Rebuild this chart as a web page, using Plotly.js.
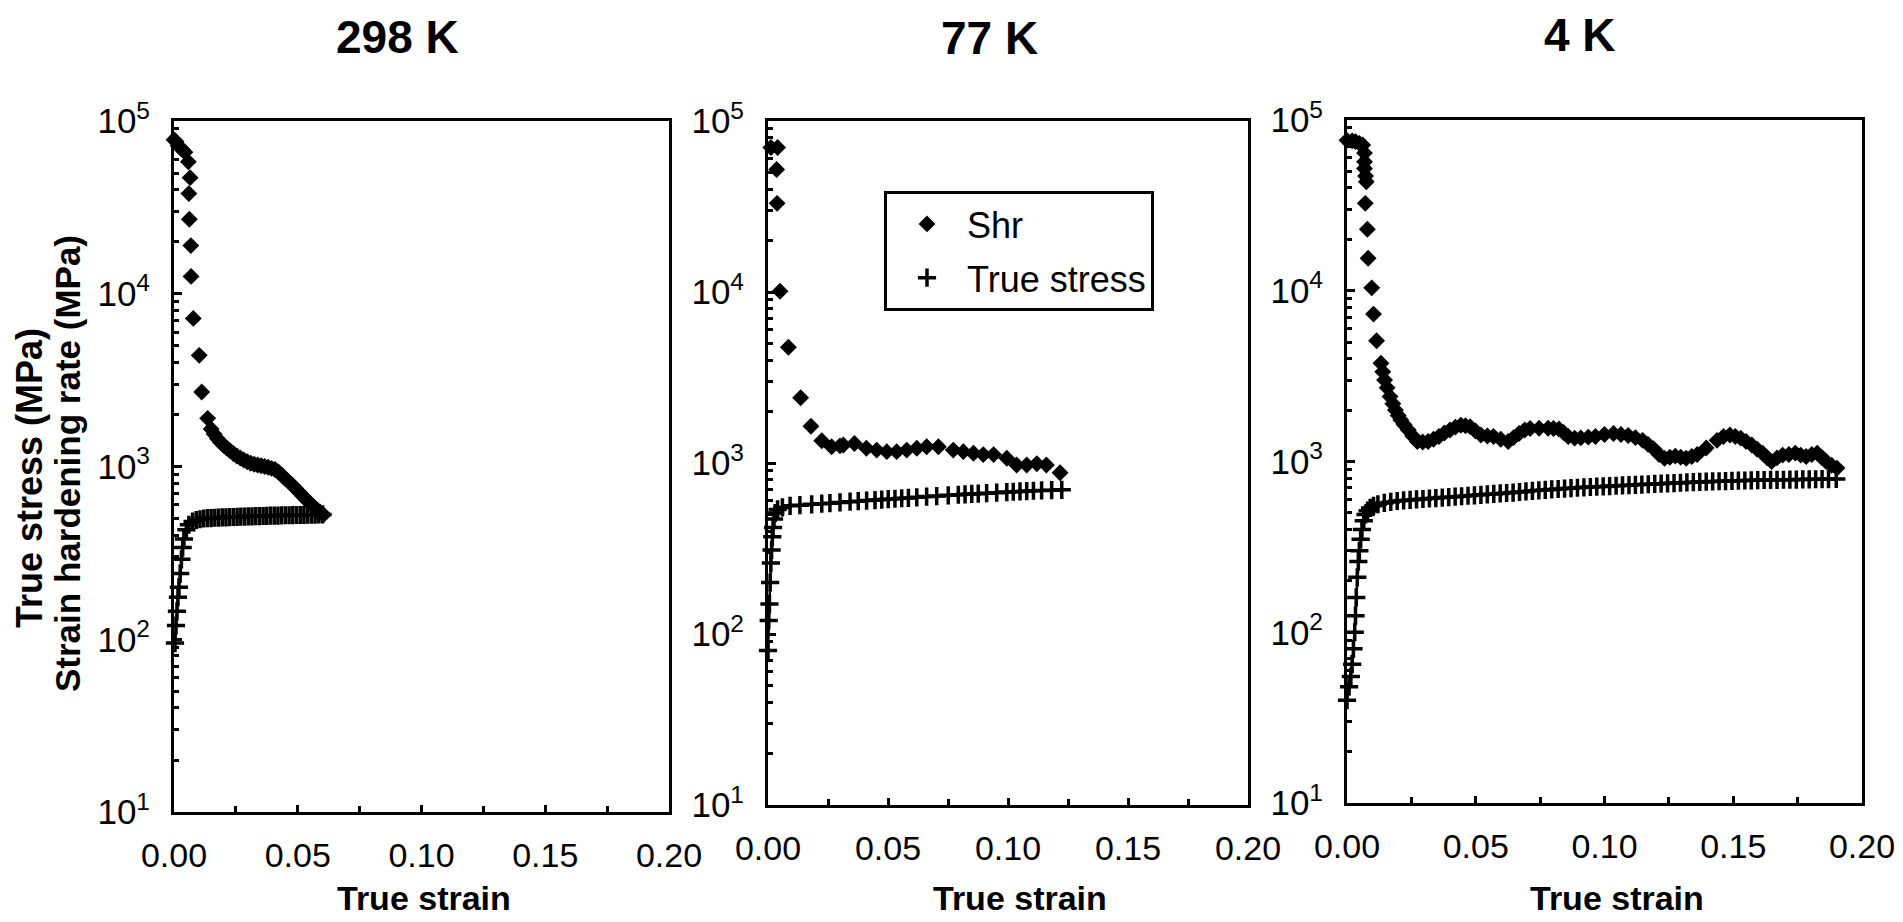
<!DOCTYPE html>
<html>
<head>
<meta charset="utf-8">
<script src="https://cdn.plot.ly/plotly-3.0.1.min.js"></script>
<style>html,body{margin:0;padding:0;background:#fff;}#chart{width:1903px;height:922px;}</style>
</head>
<body>
<div id="chart"></div>
<script>
// ---------- data ----------
const panelTitles = ['298 K', '77 K', '4 K'];
const xTickVals = [0, 0.05, 0.10, 0.15, 0.20];
const xTickText = ['0.00', '0.05', '0.10', '0.15', '0.20'];
const yTickVals = [10, 100, 1000, 10000, 100000];
const yTickText = ['10<sup>1</sup>', '10<sup>2</sup>', '10<sup>3</sup>', '10<sup>4</sup>', '10<sup>5</sup>'];
const seriesNames = ['Shr', 'True stress'];
const yTitleLines = ['True stress (MPa)', 'Strain hardening rate (MPa)'];
const xTitle = 'True strain';

// 298 K
const strain298Shr = [0.0000, 0.0008, 0.0017, 0.0030, 0.0044, 0.0058, 0.0065, 0.0060, 0.0062, 0.0068, 0.0069, 0.0078, 0.0102, 0.0112, 0.0136,
  0.0150, 0.0162, 0.0175, 0.0188, 0.0200, 0.0213, 0.0226, 0.0240, 0.0254, 0.0268, 0.0282, 0.0296, 0.0310, 0.0324, 0.0338, 0.0352,
  0.0366, 0.0380, 0.0394, 0.0408, 0.0422, 0.0436, 0.0450, 0.0464, 0.0478, 0.0492, 0.0506, 0.0520, 0.0534, 0.0548, 0.0562, 0.0576, 0.0590, 0.0604];
const shr298 = [78000, 76000, 72000, 69000, 66000, 58000, 47000, 38000, 27000, 19000, 12600, 7200, 4400, 2700, 1900,
  1650, 1540, 1450, 1380, 1325, 1280, 1235, 1190, 1150, 1120, 1090, 1065, 1045, 1030, 1020, 1010,
  1000, 990, 975, 960, 930, 890, 850, 815, 780, 745, 710, 675, 645, 615, 590, 565, 545, 525];
const strain298Stress = [0.0004, 0.0008, 0.0012, 0.0016, 0.0020, 0.0025, 0.0030, 0.0035, 0.0040, 0.0050, 0.0060, 0.0075, 0.0090, 0.0105, 0.0120,
  0.0135, 0.0150, 0.0165, 0.0180, 0.0195, 0.0210, 0.0225, 0.0240, 0.0255, 0.0270, 0.0285, 0.0300, 0.0315, 0.0330, 0.0345, 0.0360,
  0.0375, 0.0390, 0.0405, 0.0420, 0.0435, 0.0450, 0.0465, 0.0480, 0.0495, 0.0510, 0.0525, 0.0540, 0.0555, 0.0570, 0.0585, 0.0600];
const stress298 = [95, 120, 145, 175, 200, 240, 290, 340, 380, 430, 460, 480, 490, 495, 500,
  502, 503, 505, 506, 507, 508, 509, 510, 511, 512, 513, 514, 515, 516, 516, 517,
  518, 519, 520, 520, 521, 522, 522, 523, 524, 524, 525, 526, 526, 527, 528, 528];

// 77 K
const strain77Shr = [0.0012, 0.0040, 0.0036, 0.0038, 0.0050, 0.0085, 0.0136, 0.0179, 0.0224, 0.0265, 0.0300, 0.0314, 0.0360, 0.0410, 0.0453,
  0.0495, 0.0536, 0.0578, 0.0620, 0.0661, 0.0710, 0.0772, 0.0814, 0.0856, 0.0897, 0.0940, 0.0995, 0.1036, 0.1078, 0.1120, 0.1160, 0.1217];
const shr77 = [70000, 70000, 52000, 33000, 10100, 4750, 2410, 1640, 1350, 1245, 1260, 1275, 1300, 1220, 1190,
  1165, 1165, 1190, 1220, 1245, 1245, 1190, 1165, 1140, 1120, 1120, 1065, 973, 973, 990, 973, 877];
const strain77Stress = [0.0000, 0.0003, 0.0006, 0.0009, 0.0012, 0.0015, 0.0018, 0.0021, 0.0025, 0.0030, 0.0040, 0.0060,
  0.0092, 0.0133, 0.0182, 0.0224, 0.0258, 0.0300, 0.0342, 0.0376, 0.0411, 0.0446, 0.0474, 0.0501, 0.0529, 0.0557, 0.0585,
  0.0620, 0.0661, 0.0703, 0.0751, 0.0793, 0.0821, 0.0849, 0.0876, 0.0911, 0.0953, 0.0995, 0.1022, 0.1050, 0.1078, 0.1106, 0.1140, 0.1182, 0.1224];
const stress77 = [80, 120, 150, 200, 260, 310, 370, 420, 470, 510, 535, 550,
  562, 567, 573, 578, 582, 588, 594, 598, 603, 607, 611, 614, 618, 622, 625,
  630, 636, 641, 647, 652, 656, 659, 662, 666, 671, 676, 679, 682, 685, 688, 691, 694, 697];

// 4 K
const strain4Shr = [0.0000, 0.0020, 0.0033, 0.0048, 0.0061, 0.0068, 0.0068, 0.0068, 0.0072, 0.0075, 0.0071, 0.0079, 0.0082, 0.0096, 0.0103,
  0.0115, 0.0132, 0.0139, 0.0146, 0.0156, 0.0167, 0.0178, 0.0188, 0.0199, 0.0209, 0.0222, 0.0238, 0.0255, 0.0273, 0.0294,
  0.0315, 0.0336, 0.0357, 0.0378, 0.0400, 0.0421, 0.0442, 0.0460, 0.0478, 0.0499, 0.0520, 0.0545, 0.0569, 0.0597, 0.0626,
  0.0647, 0.0668, 0.0690, 0.0711, 0.0746, 0.0781, 0.0802, 0.0823, 0.0841, 0.0859, 0.0884, 0.0908, 0.0937, 0.0965, 0.1000,
  0.1035, 0.1064, 0.1092, 0.1120, 0.1148, 0.1169, 0.1190, 0.1212, 0.1233, 0.1254, 0.1275, 0.1296, 0.1317, 0.1339, 0.1360,
  0.1395, 0.1437, 0.1462, 0.1487, 0.1508, 0.1529, 0.1550, 0.1572, 0.1593, 0.1614, 0.1632, 0.1649, 0.1670, 0.1692, 0.1716,
  0.1741, 0.1762, 0.1783, 0.1805, 0.1826, 0.1843, 0.1861, 0.1882, 0.1903];
const shr4 = [76000, 75500, 74700, 73000, 71400, 64000, 57000, 52000, 47000, 43500, 32500, 22900, 15500, 10400, 7300,
  5100, 3760, 3350, 3000, 2700, 2400, 2180, 2000, 1860, 1750, 1640, 1530, 1410, 1310, 1300,
  1310, 1350, 1400, 1470, 1530, 1590, 1630, 1620, 1600, 1510, 1430, 1410, 1400, 1350, 1310,
  1380, 1460, 1530, 1560, 1565, 1565, 1560, 1550, 1480, 1400, 1370, 1375, 1390, 1400, 1440,
  1460, 1440, 1420, 1380, 1330, 1260, 1190, 1100, 1045, 1060, 1075, 1060, 1045, 1070, 1100,
  1200, 1330, 1400, 1430, 1400, 1370, 1310, 1250, 1180, 1120, 1050, 1000, 1050, 1090, 1100,
  1120, 1090, 1070, 1100, 1120, 1060, 1000, 950, 915];
const strain4Stress = [0.0000, 0.0008, 0.0015, 0.0020, 0.0025, 0.0030, 0.0033, 0.0036, 0.0040, 0.0044, 0.0048, 0.0053, 0.0058, 0.0065,
  0.0072, 0.0080, 0.0090, 0.0103, 0.0120, 0.0145, 0.0170, 0.0195, 0.0220, 0.0245, 0.0270, 0.0295, 0.0320, 0.0345, 0.0370,
  0.0395, 0.0420, 0.0445, 0.0470, 0.0495, 0.0520, 0.0545, 0.0570, 0.0595, 0.0620, 0.0645, 0.0670, 0.0695, 0.0720, 0.0745,
  0.0770, 0.0795, 0.0820, 0.0845, 0.0870, 0.0895, 0.0920, 0.0945, 0.0970, 0.0995, 0.1020, 0.1045, 0.1070, 0.1095, 0.1120,
  0.1145, 0.1170, 0.1195, 0.1220, 0.1245, 0.1270, 0.1295, 0.1320, 0.1345, 0.1370, 0.1395, 0.1420, 0.1445, 0.1470, 0.1495,
  0.1520, 0.1545, 0.1570, 0.1595, 0.1620, 0.1645, 0.1670, 0.1695, 0.1720, 0.1745, 0.1770, 0.1795, 0.1820, 0.1845, 0.1870, 0.1900];
const stress4 = [40, 48, 55, 65, 80, 100, 125, 160, 210, 260, 300, 350, 400, 450,
  490, 515, 535, 550, 562, 572, 580, 587, 592, 596, 600, 603, 607, 611, 615,
  618, 622, 626, 630, 634, 638, 642, 646, 650, 654, 658, 663, 668, 673, 678,
  682, 686, 690, 694, 698, 702, 706, 709, 712, 715, 718, 721, 724, 727, 730,
  733, 736, 739, 742, 745, 748, 751, 754, 757, 760, 762, 764, 766, 768, 770,
  772, 774, 776, 778, 779, 780, 781, 782, 783, 784, 785, 786, 787, 788, 789, 790];

// ---------- figure ----------
const FONT = 'Liberation Sans, Arial, Helvetica, sans-serif';
const panels = [
  {sx: strain298Shr, sy: shr298, tx: strain298Stress, ty: stress298, legend: false},
  {sx: strain77Shr, sy: shr77, tx: strain77Stress, ty: stress77, legend: true},
  {sx: strain4Shr, sy: shr4, tx: strain4Stress, ty: stress4, legend: false}
];
// plot-area boxes in pixels [left, right, top, bottom]
const boxes = [[174, 669, 121, 812], [768, 1248, 121, 805], [1347, 1862, 120, 803]];
const W = 1903, H = 922;

const minorY = [];
for (let d = 1; d <= 4; d++) for (let k = 2; k <= 9; k++) minorY.push(k * Math.pow(10, d));

const traces = [];
const layout = {
  width: W, height: H,
  margin: {l: 0, r: 0, t: 0, b: 0},
  paper_bgcolor: '#fff', plot_bgcolor: '#fff',
  font: {family: FONT, size: 32, color: '#000'},
  showlegend: true,
  legend: {
    x: 884 / W, y: 1 - 191 / H, xanchor: 'left', yanchor: 'top',
    bgcolor: '#fff', bordercolor: '#000', borderwidth: 3,
    font: {family: FONT, size: 36, color: '#000'},
    itemwidth: 70, tracegroupgap: 4
  },
  annotations: []
};

panels.forEach((p, i) => {
  const n = i + 1;
  const xa = 'x' + (n === 1 ? '' : n), ya = 'y' + (n === 1 ? '' : n);
  const b = boxes[i];
  traces.push({
    x: p.sx, y: p.sy, xaxis: xa, yaxis: ya, type: 'scatter', mode: 'markers', name: seriesNames[0],
    legendgroup: 'a', showlegend: p.legend, cliponaxis: false,
    marker: {symbol: 'diamond', size: 13, color: '#000'}
  });
  traces.push({
    x: p.tx, y: p.ty, xaxis: xa, yaxis: ya, type: 'scatter', mode: 'lines', showlegend: false,
    cliponaxis: false, line: {color: '#000', width: 2.5}, hoverinfo: 'skip'
  });
  traces.push({
    x: p.tx, y: p.ty, xaxis: xa, yaxis: ya, type: 'scatter', mode: 'markers', name: seriesNames[1],
    legendgroup: 'b', showlegend: p.legend, cliponaxis: false,
    marker: {symbol: 'cross-thin-open', size: 13, color: '#000', line: {color: '#000', width: 3.5}}
  });
  layout['xaxis' + (n === 1 ? '' : n)] = {
    domain: [b[0] / W, b[1] / W], anchor: ya, range: [0, 0.2],
    tickmode: 'array', tickvals: xTickVals, ticktext: xTickText,
    ticks: 'inside', ticklen: 7, tickwidth: 2.5, tickcolor: '#000',
    minor: {tickmode: 'linear', tick0: 0, dtick: 0.025, ticks: 'inside', ticklen: 6, tickwidth: 2.5, tickcolor: '#000'},
    showline: true, linewidth: 3, linecolor: '#000', mirror: true,
    showgrid: false, zeroline: false, ticklabelstandoff: 11,
    tickfont: {family: FONT, size: 34, color: '#000'}
  };
  layout['yaxis' + (n === 1 ? '' : n)] = {
    domain: [1 - b[3] / H, 1 - b[2] / H], anchor: xa, type: 'log', range: [1, 5],
    tickmode: 'array', tickvals: yTickVals, ticktext: yTickText,
    ticks: 'inside', ticklen: 8, tickwidth: 2.5, tickcolor: '#000',
    minor: {tickmode: 'array', tickvals: minorY, ticks: 'inside', ticklen: 5, tickwidth: 2.5, tickcolor: '#000'},
    showline: true, linewidth: 3, linecolor: '#000', mirror: true,
    showgrid: false, zeroline: false, ticklabelstandoff: 14,
    tickfont: {family: FONT, size: 35, color: '#000'}
  };
});

const titleX = [397, 990, 1580], titleY = [37, 38, 35];
const xlabX = [424, 1020, 1617];
panelTitles.forEach((t, i) => {
  layout.annotations.push({
    text: t, xref: 'paper', yref: 'paper', x: titleX[i] / W, y: 1 - titleY[i] / H,
    xanchor: 'center', yanchor: 'middle', showarrow: false,
    font: {family: FONT, size: 46, weight: 700, color: '#000'}
  });
  layout.annotations.push({
    text: xTitle, xref: 'paper', yref: 'paper', x: xlabX[i] / W, y: 1 - 898 / H,
    xanchor: 'center', yanchor: 'middle', showarrow: false,
    font: {family: FONT, size: 34, weight: 700, color: '#000'}
  });
});
const yTitleX = [29, 67], yTitleY = [478, 464], yTitleSize = [36, 35];
yTitleLines.forEach((t, i) => {
  layout.annotations.push({
    text: t, xref: 'paper', yref: 'paper',
    x: yTitleX[i] / W, y: 1 - yTitleY[i] / H, xanchor: 'center', yanchor: 'middle',
    textangle: -90, showarrow: false,
    font: {family: FONT, size: yTitleSize[i], weight: 700, color: '#000'}
  });
});

Plotly.newPlot('chart', traces, layout, {displayModeBar: false});
</script>
</body>
</html>
